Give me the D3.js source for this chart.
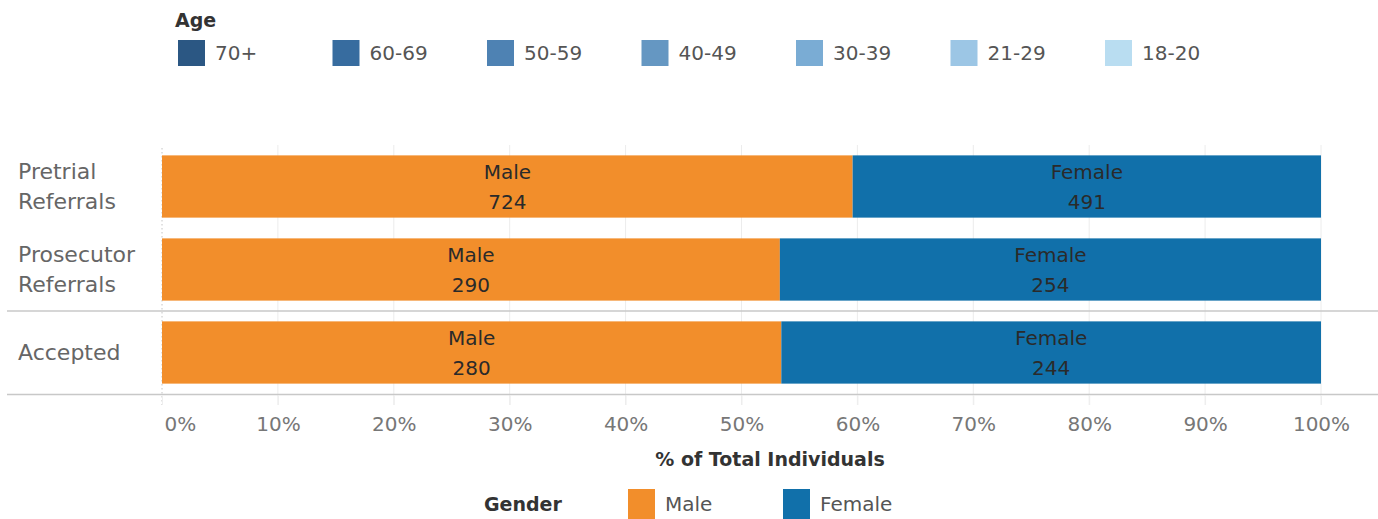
<!DOCTYPE html>
<html>
<head>
<meta charset="utf-8">
<script src="https://cdn.jsdelivr.net/npm/d3@7"></script>
<style>
  body { margin: 0; background: #fff; }
  text { font-family: "DejaVu Sans", "Noto Sans", sans-serif; }
</style>
</head>
<body>
<div id="chart"></div>
<script>
  // data
  const stages = ["Pretrial Referrals", "Prosecutor Referrals", "Accepted"];
  const stageLines = [["Pretrial", "Referrals"], ["Prosecutor", "Referrals"], ["Accepted"]];
  const maleCounts = [724, 290, 280];
  const femaleCounts = [491, 254, 244];
  const genders = ["Male", "Female"];
  const genderColors = ["#f28e2b", "#1170aa"];
  const ageGroups = ["70+", "60-69", "50-59", "40-49", "30-39", "21-29", "18-20"];
  const ageColors = ["#2b5783", "#376c9f", "#4e82b3", "#6597c2", "#7aacd4", "#9cc6e5", "#b9ddf1"];
  const xTicks = [0, 0.1, 0.2, 0.3, 0.4, 0.5, 0.6, 0.7, 0.8, 0.9, 1];

  const width = 1378, height = 519;

  const svg = d3.select("#chart")
    .append("svg")
    .attr("width", width)
    .attr("height", height);

  const x = d3.scaleLinear().domain([0, 1]).range([162, 1321]);
  const y = d3.scaleBand().domain(stages).range([145, 394])
    .paddingInner(0.25).paddingOuter(0.125);

  // gridlines
  svg.append("g")
    .selectAll("line")
    .data(xTicks.slice(1))
    .join("line")
    .attr("x1", d => x(d)).attr("x2", d => x(d))
    .attr("y1", 145).attr("y2", 405)
    .attr("stroke", "#ececec");

  // zero line, dotted
  svg.append("line")
    .attr("x1", x(0)).attr("x2", x(0))
    .attr("y1", 148).attr("y2", 405)
    .attr("stroke", "#c4c4c4")
    .attr("stroke-dasharray", "1.5,2.5");

  // row separators
  const sepY = y("Accepted") - y.step() * 0.125;
  svg.append("line")
    .attr("x1", 7).attr("x2", width)
    .attr("y1", sepY).attr("y2", sepY)
    .attr("stroke", "#c8c8c8").attr("stroke-width", 1.5);
  svg.append("line")
    .attr("x1", 7).attr("x2", width)
    .attr("y1", 394.5).attr("y2", 394.5)
    .attr("stroke", "#c8c8c8").attr("stroke-width", 1.5);

  // stacked bars
  const rows = stages.map((s, i) => {
    const total = maleCounts[i] + femaleCounts[i];
    return {
      stage: s,
      parts: [
        {g: "Male", n: maleCounts[i], x0: 0, x1: maleCounts[i] / total, color: genderColors[0]},
        {g: "Female", n: femaleCounts[i], x0: maleCounts[i] / total, x1: 1, color: genderColors[1]}
      ]
    };
  });

  const rowG = svg.append("g")
    .selectAll("g")
    .data(rows)
    .join("g")
    .attr("transform", d => `translate(0,${y(d.stage)})`);

  const seg = rowG.selectAll("g")
    .data(d => d.parts)
    .join("g");

  seg.append("rect")
    .attr("x", d => x(d.x0))
    .attr("width", d => x(d.x1) - x(d.x0))
    .attr("height", y.bandwidth())
    .attr("fill", d => d.color);

  seg.append("text")
    .attr("x", d => (x(d.x0) + x(d.x1)) / 2)
    .attr("y", y.bandwidth() / 2 - 15)
    .attr("dy", "0.35em")
    .attr("text-anchor", "middle")
    .style("font-size", "20px")
    .attr("fill", "#2a2a2a")
    .text(d => d.g);

  seg.append("text")
    .attr("x", d => (x(d.x0) + x(d.x1)) / 2)
    .attr("y", y.bandwidth() / 2 + 15)
    .attr("dy", "0.35em")
    .attr("text-anchor", "middle")
    .style("font-size", "20px")
    .attr("fill", "#2a2a2a")
    .text(d => d.n);

  // category labels
  stages.forEach((s, i) => {
    const lines = stageLines[i];
    const cy = y(s) + y.bandwidth() / 2;
    lines.forEach((t, j) => {
      svg.append("text")
        .attr("x", 18)
        .attr("y", cy + (j - (lines.length - 1) / 2) * 30)
        .attr("dy", "0.35em")
        .style("font-size", "22px")
        .attr("fill", "#666")
        .text(t);
    });
  });

  // x axis
  const xAxis = svg.append("g")
    .attr("transform", "translate(0,395)")
    .call(d3.axisBottom(x).tickValues(xTicks).tickFormat(d3.format(".0%")).tickSize(10).tickPadding(12));
  xAxis.select(".domain").remove();
  xAxis.selectAll(".tick line").attr("stroke", "#eeeeee");
  xAxis.selectAll(".tick text")
    .attr("fill", "#777")
    .style("font-size", "20px");
  xAxis.selectAll(".tick text").filter(d => d === 0)
    .attr("text-anchor", "start")
    .attr("x", 2);

  svg.append("text")
    .attr("x", 770)
    .attr("y", 459)
    .attr("dy", "0.35em")
    .attr("text-anchor", "middle")
    .style("font-size", "19px")
    .style("font-weight", "bold")
    .attr("fill", "#333")
    .text("% of Total Individuals");

  // age legend
  svg.append("text")
    .attr("x", 175).attr("y", 20).attr("dy", "0.35em")
    .style("font-size", "19px").style("font-weight", "bold")
    .attr("fill", "#333")
    .text("Age");

  const ageLeg = svg.append("g")
    .selectAll("g")
    .data(ageGroups)
    .join("g")
    .attr("transform", (d, i) => `translate(${178 + i * 154.5},40)`);
  ageLeg.append("rect")
    .attr("width", 27).attr("height", 26)
    .attr("fill", (d, i) => ageColors[i]);
  ageLeg.append("text")
    .attr("x", 37).attr("y", 13).attr("dy", "0.35em")
    .style("font-size", "20px")
    .attr("fill", "#555")
    .text(d => d);

  // gender legend
  svg.append("text")
    .attr("x", 484).attr("y", 504).attr("dy", "0.35em")
    .style("font-size", "19px").style("font-weight", "bold")
    .attr("fill", "#333")
    .text("Gender");

  const genLeg = svg.append("g")
    .selectAll("g")
    .data(genders)
    .join("g")
    .attr("transform", (d, i) => `translate(${628 + i * 155},489)`);
  genLeg.append("rect")
    .attr("width", 27).attr("height", 30)
    .attr("fill", (d, i) => genderColors[i]);
  genLeg.append("text")
    .attr("x", 37).attr("y", 15).attr("dy", "0.35em")
    .style("font-size", "20px")
    .attr("fill", "#555")
    .text(d => d);
</script>
</body>
</html>
